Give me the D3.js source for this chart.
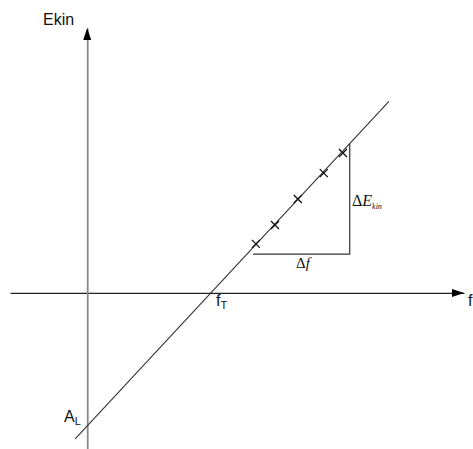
<!DOCTYPE html>
<html><head><meta charset="utf-8">
<script src="https://cdn.jsdelivr.net/npm/d3@7"></script>
<style>body{margin:0;background:#fff}svg{display:block}</style>
</head><body>
<script>
// Data (arbitrary units)
const fThreshold = 4.0;          // f_T
const slopeH = 1.075;            // slope of line
const lineF = [-0.39, 9.77];     // line extent in f
const measF = [5.46, 6.08, 6.82, 7.66, 8.28];
const measE = [1.59, 2.20, 3.04, 3.88, 4.53];
const triF = [5.37, 8.50];       // triangle horizontal extent
const triE0 = 1.26;              // triangle base level
const labels = {yAxis:"Ekin", xAxis:"f", fT:["f","T"], AL:["A","L"]};

const W = 473, H = 449;
const x = d3.scaleLinear().domain([-2.5, 12.2]).range([10, 464]);
const y = d3.scaleLinear().domain([-5.05, 8.576]).range([449, 28]);
const E = f => slopeH * (f - fThreshold);

const svg = d3.select("body").append("svg").attr("width", W).attr("height", H);

// axes (no ticks)
const gx = svg.append("g").attr("transform", `translate(0,${y(0)})`)
  .call(d3.axisBottom(x).tickValues([]).tickSizeOuter(0));
gx.select(".domain").attr("stroke", "#222").attr("stroke-width", 1.2);
const gy = svg.append("g").attr("transform", `translate(${x(0)},0)`)
  .call(d3.axisLeft(y).tickValues([]).tickSizeOuter(0));
gy.select(".domain").attr("stroke", "#8a8a8a").attr("stroke-width", 1.8);

// arrow heads
const x0 = x(0), y0 = y(0), xTip = x.range()[1], yTip = y.range()[1];
svg.append("path").attr("d", `M${xTip},${y0} L${xTip-12},${y0-4} L${xTip-12},${y0+4} Z`).attr("fill", "#000");
svg.append("path").attr("d", `M${x0},${yTip} L${x0-4},${yTip+12} L${x0+4},${yTip+12} Z`).attr("fill", "#000");

// main line
svg.append("line")
  .attr("x1", x(lineF[0])).attr("y1", y(E(lineF[0])))
  .attr("x2", x(lineF[1])).attr("y2", y(E(lineF[1])))
  .attr("stroke", "#333").attr("stroke-width", 1.1);

// triangle
svg.append("path")
  .attr("d", `M${x(triF[0])},${y(triE0)} L${x(triF[1])},${y(triE0)} L${x(triF[1])},${y(E(triF[1]))}`)
  .attr("fill", "none").attr("stroke", "#333").attr("stroke-width", 1.2);

// crosses
const pts = measF.map((f, i) => [f, measE[i]]);
svg.selectAll("path.cross").data(pts).enter().append("path")
  .attr("class", "cross")
  .attr("d", d => { const cx = x(d[0]), cy = y(d[1]), s = 4;
    return `M${cx-s},${cy-s}L${cx+s},${cy+s}M${cx-s},${cy+s}L${cx+s},${cy-s}`; })
  .attr("stroke", "#111").attr("stroke-width", 1.3);

// labels
const sans = "Liberation Sans, Arial, sans-serif";
const serif = "Liberation Serif, Times New Roman, serif";
svg.append("text").attr("x", 43).attr("y", 25).attr("font-family", sans).attr("font-size", 16).attr("fill", "#111").text(labels.yAxis);
svg.append("text").attr("x", 468).attr("y", 306).attr("font-family", sans).attr("font-size", 16).attr("fill", "#111").text(labels.xAxis);

const fT = svg.append("text").attr("x", 216).attr("y", 306).attr("font-family", sans).attr("font-size", 16).attr("fill", "#111");
fT.append("tspan").text(labels.fT[0]);
fT.append("tspan").attr("font-size", 11).attr("dy", 3).text(labels.fT[1]);

const AL = svg.append("text").attr("x", 64).attr("y", 422).attr("font-family", sans).attr("font-size", 16).attr("fill", "#111");
AL.append("tspan").text(labels.AL[0]);
AL.append("tspan").attr("font-size", 11).attr("dy", 3).text(labels.AL[1]);

const df = svg.append("text").attr("x", 296).attr("y", 268).attr("font-family", serif).attr("font-size", 15).attr("fill", "#111");
df.append("tspan").text("Δ");
df.append("tspan").attr("font-style", "italic").text("f");

const dE = svg.append("text").attr("x", 352).attr("y", 206).attr("font-family", serif).attr("font-size", 16).attr("fill", "#111");
dE.append("tspan").text("Δ");
dE.append("tspan").attr("font-style", "italic").text("E");
dE.append("tspan").attr("font-style", "italic").attr("font-size", 8).attr("dy", 3).text("kin");
</script>
</body></html>
